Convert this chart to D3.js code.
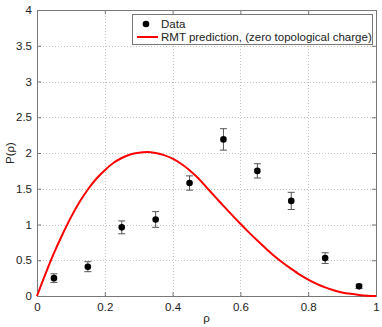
<!DOCTYPE html>
<html lang="en">
<head>
    <meta charset="UTF-8">
    <title>P(rho)</title>
    <script src="https://d3js.org/d3.v7.min.js"></script>
    <style>
        body { margin: 0; background: #fff; }
        text { font-family: "Liberation Sans", Arial, sans-serif; fill: #222; }
        .grid line { stroke: #c4c4c4; stroke-width: 1; stroke-dasharray: 1,2; }
        .frame { fill: none; stroke: #777; stroke-width: 1; }
    </style>
</head>
<body>
    <div id="chart"></div>
    <script>
        // measured data (bin centres, heights, error bars)
        const rhoBins = [0.05, 0.15, 0.25, 0.35, 0.45, 0.55, 0.65, 0.75, 0.85, 0.95];
        const pData   = [0.25, 0.41, 0.96, 1.07, 1.58, 2.19, 1.75, 1.33, 0.53, 0.135];
        const pErr    = [0.06, 0.07, 0.09, 0.11, 0.10, 0.15, 0.10, 0.12, 0.075, 0.03];

        // RMT prediction curve
        const curveRho = [0, 0.025, 0.05, 0.075, 0.1, 0.125, 0.15, 0.175, 0.2, 0.225, 0.25, 0.275, 0.3, 0.325,
                          0.35, 0.375, 0.4, 0.425, 0.45, 0.475, 0.5, 0.525, 0.55, 0.575, 0.6, 0.625, 0.65, 0.675,
                          0.7, 0.725, 0.75, 0.775, 0.8, 0.825, 0.85, 0.875, 0.9, 0.925, 0.95, 0.975, 1.0];
        const curveP   = [0, 0.31, 0.60, 0.86, 1.10, 1.31, 1.49, 1.64, 1.76, 1.86, 1.93, 1.98, 2.005, 2.015,
                          2.0, 1.97, 1.92, 1.85, 1.76, 1.65, 1.52, 1.39, 1.26, 1.135, 1.01, 0.89, 0.775, 0.665,
                          0.56, 0.465, 0.38, 0.30, 0.23, 0.17, 0.12, 0.08, 0.05, 0.03, 0.015, 0.005, 0];

        const xTicks = [0, 0.2, 0.4, 0.6, 0.8, 1];
        const yTicks = [0, 0.5, 1, 1.5, 2, 2.5, 3, 3.5, 4];
        const legendLabels = ["Data", "RMT prediction, (zero topological charge)"];

        const W = 382, H = 327;
        const margin = {top: 10, right: 6, bottom: 31, left: 37},
            width = W - margin.left - margin.right,
            height = H - margin.top - margin.bottom;

        const svg = d3.select("#chart").append("svg")
            .attr("width", W)
            .attr("height", H);

        const g = svg.append("g")
            .attr("transform", "translate(" + margin.left + "," + margin.top + ")");

        const x = d3.scaleLinear().domain([0, 1]).range([0, width]);
        const y = d3.scaleLinear().domain([0, 4]).range([height, 0]);

        // dotted grid
        g.append("g").attr("class", "grid")
            .selectAll("line").data(xTicks.slice(1, -1)).join("line")
            .attr("x1", d => Math.round(x(d)) + 0.5).attr("x2", d => Math.round(x(d)) + 0.5)
            .attr("y1", 0).attr("y2", height);
        g.append("g").attr("class", "grid")
            .selectAll("line").data(yTicks.slice(1, -1)).join("line")
            .attr("y1", d => Math.round(y(d)) + 0.5).attr("y2", d => Math.round(y(d)) + 0.5)
            .attr("x1", 0).attr("x2", width);

        // axes, ticks pointing inward (matlab style)
        const fmt = d => String(d);
        const axB = g.append("g").attr("transform", "translate(0," + height + ")")
            .call(d3.axisBottom(x).tickValues(xTicks).tickFormat(fmt).tickSizeInner(-4).tickSizeOuter(0).tickPadding(7));
        const axT = g.append("g")
            .call(d3.axisTop(x).tickValues(xTicks).tickFormat("").tickSizeInner(-4).tickSizeOuter(0));
        const axL = g.append("g")
            .call(d3.axisLeft(y).tickValues(yTicks).tickFormat(fmt).tickSizeInner(-4).tickSizeOuter(0).tickPadding(5));
        const axR = g.append("g").attr("transform", "translate(" + width + ",0)")
            .call(d3.axisRight(y).tickValues(yTicks).tickFormat("").tickSizeInner(-4).tickSizeOuter(0));
        [axB, axT, axL, axR].forEach(a => {
            a.select(".domain").remove();
            a.selectAll("line").attr("stroke", "#777");
            a.selectAll("text").style("font-size", "11.5px").attr("fill", "#222");
        });

        g.append("rect").attr("class", "frame")
            .attr("x", 0.5).attr("y", 0.5).attr("width", width).attr("height", height);

        // RMT curve
        const pts = curveRho.map((r, i) => [r, curveP[i]]);
        g.append("path")
            .datum(pts)
            .attr("fill", "none")
            .attr("stroke", "#f00")
            .attr("stroke-width", 2)
            .attr("d", d3.line().x(d => x(d[0])).y(d => y(d[1])).curve(d3.curveMonotoneX));

        // error bars + markers
        const pts2 = rhoBins.map((r, i) => ({r: r, p: pData[i], e: pErr[i]}));
        const eb = g.append("g").attr("stroke", "#555").attr("stroke-width", 1);
        eb.selectAll(".v").data(pts2).join("line")
            .attr("x1", d => x(d.r)).attr("x2", d => x(d.r))
            .attr("y1", d => y(d.p + d.e)).attr("y2", d => y(d.p - d.e));
        eb.selectAll(".t").data(pts2).join("line")
            .attr("x1", d => x(d.r) - 3.5).attr("x2", d => x(d.r) + 3.5)
            .attr("y1", d => y(d.p + d.e)).attr("y2", d => y(d.p + d.e));
        eb.selectAll(".b").data(pts2).join("line")
            .attr("x1", d => x(d.r) - 3.5).attr("x2", d => x(d.r) + 3.5)
            .attr("y1", d => y(d.p - d.e)).attr("y2", d => y(d.p - d.e));
        g.append("g").selectAll("circle").data(pts2).join("circle")
            .attr("cx", d => x(d.r)).attr("cy", d => y(d.p))
            .attr("r", 3.3).attr("fill", "#000");

        // axis labels
        svg.append("text")
            .attr("x", margin.left + width / 2).attr("y", 322)
            .attr("text-anchor", "middle").style("font-size", "11.5px")
            .text("ρ");
        svg.append("text")
            .attr("transform", "translate(14," + (margin.top + height / 2) + ") rotate(-90)")
            .attr("text-anchor", "middle").style("font-size", "11.5px")
            .text("P(ρ)");

        // legend
        const lg = svg.append("g").attr("transform", "translate(132,14)");
        lg.append("rect").attr("x", 0.5).attr("y", 0.5).attr("width", 240).attr("height", 30)
            .attr("fill", "#fff").attr("stroke", "#777");
        lg.append("circle").attr("cx", 14).attr("cy", 10).attr("r", 3.3).attr("fill", "#000");
        lg.append("line").attr("x1", 5).attr("x2", 26).attr("y1", 23).attr("y2", 23)
            .attr("stroke", "#f00").attr("stroke-width", 2);
        lg.selectAll("text.lbl").data(legendLabels).join("text")
            .attr("class", "lbl")
            .attr("x", 29).attr("y", (d, i) => 14 + i * 13)
            .style("font-size", "11.5px")
            .text(d => d);
    </script>
</body>
</html>
